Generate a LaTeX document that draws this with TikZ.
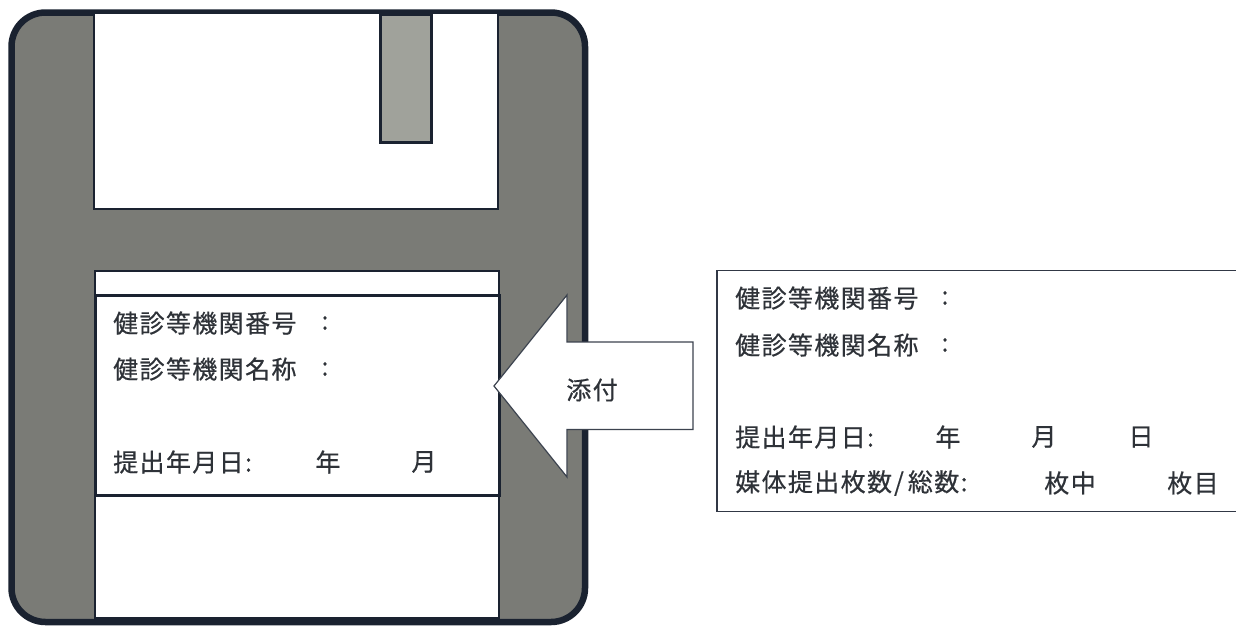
\documentclass[tikz,border=0pt]{standalone}
\usepackage{fontspec}
\setmainfont{Noto Sans CJK JP}[LetterSpace=5.5,FakeBold=0.5]
\definecolor{ink}{HTML}{1A2230}
\definecolor{textink}{HTML}{2E3238}
\definecolor{diskgray}{HTML}{7A7B76}
\definecolor{tabgray}{HTML}{A0A29B}
\tikzset{
  txt/.style={anchor=west,inner sep=0pt,text=textink,font=\fontsize{25}{28}\selectfont},
  txtc/.style={txt,anchor=center},
  win/.style={fill=white,draw=ink,line width=1.6pt},
  thick box/.style={win,line width=3pt}
}
\begin{document}
\begin{tikzpicture}[x=1pt,y=-1pt]
\useasboundingbox (0,0) rectangle (1236,625);
\fill[white] (0,0) rectangle (1236,625);
% disk body
\draw[fill=diskgray,draw=ink,line width=6.5pt,rounded corners=34pt] (11.5,12.5) rectangle (585,622);
% shutter window
\draw[win] (94,13) rectangle (498,209);
\draw[fill=tabgray,draw=ink,line width=3pt] (380.5,14) rectangle (431,142);
% label
\draw[win] (95,271) rectangle (499,618);
\draw[thick box,fill=white] (95,295) rectangle (499,495);
% arrow
\draw[fill=white,draw=ink!85,line width=1.2pt,line join=miter] (494,386) -- (567,295) -- (567,342) -- (693,342) -- (693,429.5) -- (567,429.5) -- (567,477) -- cycle;
\node[txt] (lnum) at (113,323) {健診等機関番号};
\node[txtc] (lnumc) at (325,323) {:};
\node[txt] (lname) at (113,369) {健診等機関名称};
\node[txtc] (lnamec) at (325,369) {:};
\node[txt] (ldate) at (113,462) {提出年月日:};
\node[txtc] (ly) at (328,462) {年};
\node[txtc] (lm) at (424,462) {月};
\node[txtc] (attach) at (592,390) {添付};
% detached label
\draw[fill=white,draw=ink!90,line width=1.2pt] (717,270.5) -- (1240,270.5) -- (1240,511.5) -- (717,511.5) -- cycle;
\node[txt] (rnum) at (735,298) {健診等機関番号};
\node[txtc] (rnumc) at (945,298) {:};
\node[txt] (rname) at (735,345) {健診等機関名称};
\node[txtc] (rnamec) at (945,345) {:};
\node[txt] (rdate) at (735,437) {提出年月日:};
\node[txtc] (ry) at (948,437) {年};
\node[txtc] (rm) at (1044,437) {月};
\node[txtc] (rd) at (1141,437) {日};
\node[txt] (rmedia) at (735,483) {媒体提出枚数\kern2pt/\kern4pt総数:};
\node[txtc] (rsheets) at (1070,483) {枚中};
\node[txtc] (rnth) at (1193,483) {枚目};
\end{tikzpicture}
\end{document}
